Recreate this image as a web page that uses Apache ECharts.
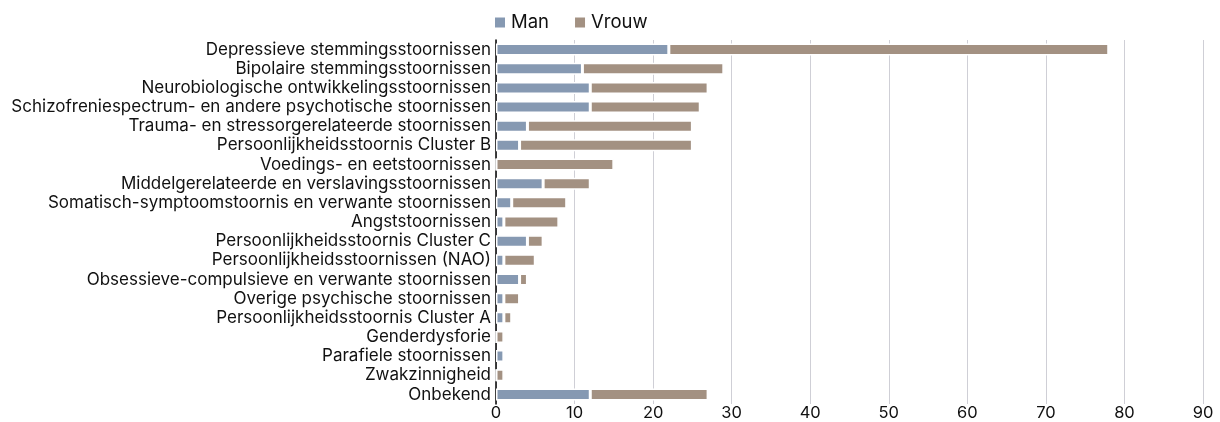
<!DOCTYPE html>
<html>
<head>
<meta charset="utf-8">
<script src="https://cdn.jsdelivr.net/npm/echarts@6/dist/echarts.min.js"></script>
<style>
  html, body { margin: 0; padding: 0; background: #fff; }
  #chart { width: 1220px; height: 422px; }
</style>
</head>
<body>
<div id="chart"></div>
<script>
// Diagnoses, top to bottom
const categories = [
  'Depressieve stemmingsstoornissen',
  'Bipolaire stemmingsstoornissen',
  'Neurobiologische ontwikkelingsstoornissen',
  'Schizofreniespectrum- en andere psychotische stoornissen',
  'Trauma- en stressorgerelateerde stoornissen',
  'Persoonlijkheidsstoornis Cluster B',
  'Voedings- en eetstoornissen',
  'Middelgerelateerde en verslavingsstoornissen',
  'Somatisch-symptoomstoornis en verwante stoornissen',
  'Angststoornissen',
  'Persoonlijkheidsstoornis Cluster C',
  'Persoonlijkheidsstoornissen (NAO)',
  'Obsessieve-compulsieve en verwante stoornissen',
  'Overige psychische stoornissen',
  'Persoonlijkheidsstoornis Cluster A',
  'Genderdysforie',
  'Parafiele stoornissen',
  'Zwakzinnigheid',
  'Onbekend'
];
const man   = [22, 11, 12, 12, 4, 3, 0, 6, 2, 1, 4, 1, 3, 1, 1, 0, 1, 0, 12];
const vrouw = [56, 18, 15, 14, 21, 22, 15, 6, 7, 7, 2, 4, 1, 2, 1, 1, 0, 1, 15];
const xTicks = { min: 0, max: 90, interval: 10 };

const FONT = 'Inter, "Noto Sans", sans-serif';
const chart = echarts.init(document.getElementById('chart'));

function barSeries(name, data, color) {
  return {
    name: name,
    type: 'bar',
    stack: 'totaal',
    data: data,
    barWidth: 12,
    itemStyle: { color: color, borderColor: '#ffffff', borderWidth: 1.5 },
    emphasis: { disabled: true }
  };
}

chart.setOption({
  animation: false,
  legend: {
    top: 8,
    left: 488,
    itemWidth: 12,
    itemHeight: 12,
    itemGap: 24,
    icon: 'rect',
    textStyle: { fontFamily: FONT, fontSize: 18.5, color: '#111' },
    data: ['Man', 'Vrouw']
  },
  grid: { left: 496, right: 17, top: 40, bottom: 14, containLabel: false },
  xAxis: {
    type: 'value',
    min: xTicks.min,
    max: xTicks.max,
    interval: xTicks.interval,
    axisLine: { show: false },
    axisTick: { show: false },
    splitLine: { show: true, lineStyle: { color: '#cfcfd6', width: 1 } },
    axisLabel: { fontFamily: FONT, fontSize: 16.5, color: '#111', margin: 1 }
  },
  yAxis: {
    type: 'category',
    inverse: true,
    data: categories,
    axisLine: { show: true, lineStyle: { color: '#000', width: 1.5 } },
    axisTick: { show: false },
    axisLabel: { interval: 0, fontFamily: FONT, fontSize: 17, color: '#111', margin: 5 }
  },
  series: [
    barSeries('Man', man, '#8699b2'),
    barSeries('Vrouw', vrouw, '#a39182')
  ]
});
</script>
</body>
</html>
